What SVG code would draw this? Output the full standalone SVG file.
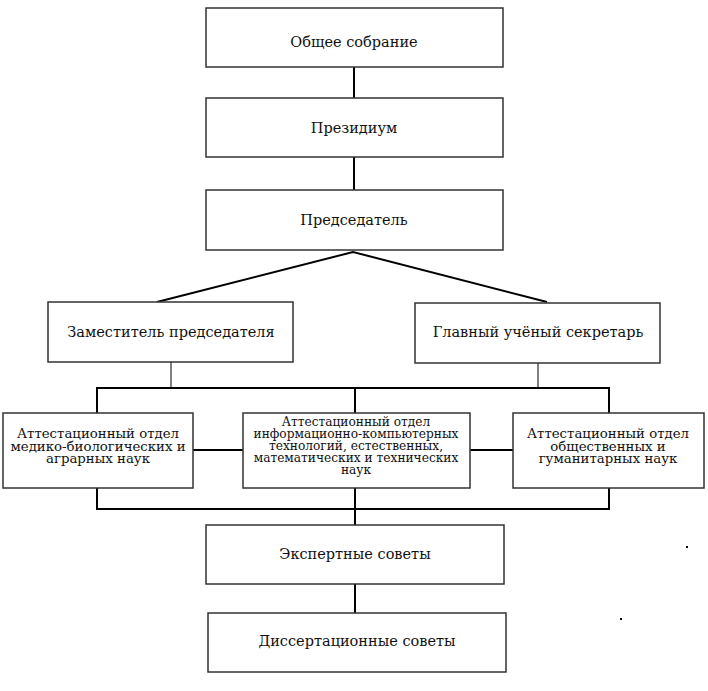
<svg xmlns="http://www.w3.org/2000/svg" width="708" height="691" viewBox="0 0 708 691">
<style>
.box{fill:#fff;stroke:#333;stroke-width:1.5}
.t{font-family:"DejaVu Serif","Liberation Serif",serif;fill:#111;text-anchor:middle}
.big{font-size:14.5px}
.mid{font-size:13.3px}
.sm{font-size:12.2px}
.c{fill:none;stroke:#000;stroke-width:2}
.thin{fill:none;stroke:#000;stroke-width:1}
</style>
<rect width="708" height="691" fill="#fff"/>
<g id="connectors">
<line class="c" x1="354" y1="67" x2="354" y2="98"/>
<line class="c" x1="354" y1="157" x2="354" y2="190"/>
<polyline class="c" points="157,302 353,252 547,302"/>
<line class="thin" x1="171" y1="362" x2="171" y2="388"/>
<line class="thin" x1="538" y1="363" x2="538" y2="388"/>
<polyline class="c" points="97,413 97,388 609,388 609,413"/>
<line class="c" x1="355" y1="388" x2="355" y2="413"/>
<line class="c" x1="193" y1="450" x2="243" y2="450"/>
<line class="c" x1="470" y1="450" x2="513" y2="450"/>
<polyline class="c" points="97,488 97,509 609,509 609,488"/>
<line class="c" x1="355" y1="488" x2="355" y2="525"/>
<line class="c" x1="355" y1="584" x2="355" y2="613"/>
</g>
<g id="n1"><rect class="box" x="206" y="8" width="297" height="59"/><text class="t big" x="354" y="47">Общее собрание</text></g>
<g id="n2"><rect class="box" x="206" y="98" width="297" height="59"/><text class="t big" x="354" y="133">Президиум</text></g>
<g id="n3"><rect class="box" x="206" y="190" width="297" height="60"/><text class="t big" x="354" y="225">Председатель</text></g>
<g id="n4"><rect class="box" x="48" y="302" width="245" height="60"/><text class="t big" x="171" y="337">Заместитель председателя</text></g>
<g id="n5"><rect class="box" x="415" y="303" width="245" height="60"/><text class="t big" x="538" y="337">Главный учёный секретарь</text></g>
<g id="n6"><rect class="box" x="3" y="413" width="190" height="75"/>
<text class="t mid" x="98" y="438">Аттестационный отдел</text>
<text class="t mid" x="98" y="450.6">медико-биологических и</text>
<text class="t mid" x="98" y="463.2">аграрных наук</text></g>
<g id="n7"><rect class="box" x="243" y="413" width="227" height="75"/>
<text class="t sm" x="356" y="425.5">Аттестационный отдел</text>
<text class="t sm" x="356" y="437.7">информационно-компьютерных</text>
<text class="t sm" x="356" y="449.9">технологий, естественных,</text>
<text class="t sm" x="356" y="462.1">математических и технических</text>
<text class="t sm" x="356" y="474.3">наук</text></g>
<g id="n8"><rect class="box" x="513" y="413" width="191" height="75"/>
<text class="t mid" x="608" y="438">Аттестационный отдел</text>
<text class="t mid" x="608" y="450.6">общественных и</text>
<text class="t mid" x="608" y="463.2">гуманитарных наук</text></g>
<g id="n9"><rect class="box" x="206" y="525" width="298" height="59"/><text class="t big" x="355" y="559">Экспертные советы</text></g>
<g id="n10"><rect class="box" x="208" y="613" width="298" height="59"/><text class="t big" x="357" y="646">Диссертационные советы</text></g>
<rect x="686" y="546" width="2" height="2" fill="#000"/>
<rect x="620" y="618" width="2" height="2" fill="#000"/>
</svg>
